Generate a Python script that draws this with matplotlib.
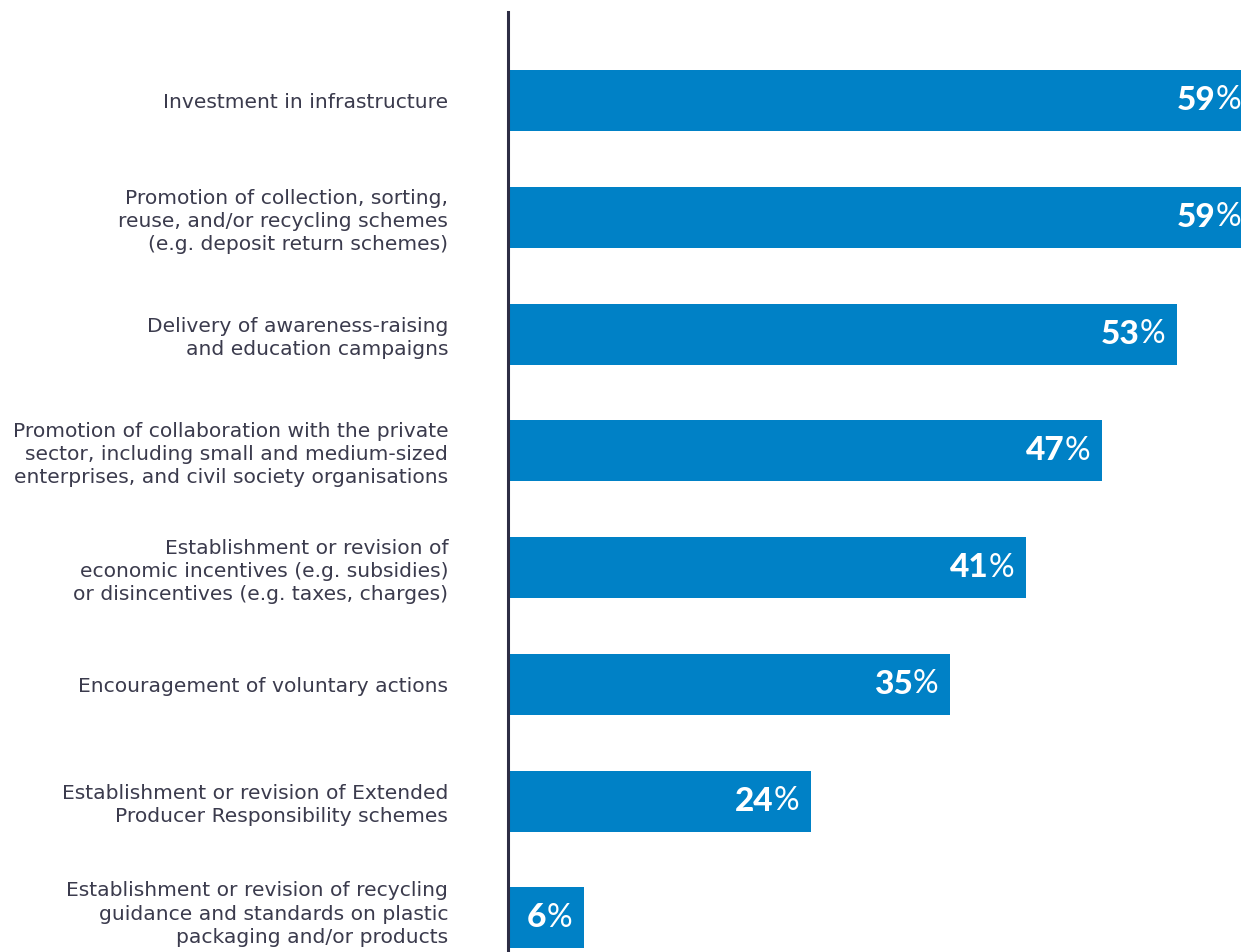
import matplotlib
matplotlib.use("Agg")
import matplotlib.pyplot as plt
from matplotlib.transforms import ScaledTranslation

categories = [
    "Investment in infrastructure",
    "Promotion of collection, sorting,\nreuse, and/or recycling schemes\n(e.g. deposit return schemes)",
    "Delivery of awareness-raising\nand education campaigns",
    "Promotion of collaboration with the private\nsector, including small and medium-sized\nenterprises, and civil society organisations",
    "Establishment or revision of\neconomic incentives (e.g. subsidies)\nor disincentives (e.g. taxes, charges)",
    "Encouragement of voluntary actions",
    "Establishment or revision of Extended\nProducer Responsibility schemes",
    "Establishment or revision of recycling\nguidance and standards on plastic\npackaging and/or products",
]
values = [59, 59, 53, 47, 41, 35, 24, 6]

BAR = "#0081C6"
TXT = "#3b3b4d"
AXC = "#2d2d44"

W, H, DPI = 1241, 952, 100
fig = plt.figure(figsize=(W / DPI, H / DPI), dpi=DPI)
left_px, top_px = 508, 12
ax = fig.add_axes([left_px / W, 0, 1 - left_px / W, (H - top_px) / H])

spacing = 116.8
c0 = 100.4
y_top = -(c0 - top_px) / spacing
y_bot = (H - c0) / spacing
pos = list(range(len(values)))
ax.barh(pos, values, height=61 / spacing, color=BAR, left=0)
ax.set_ylim(y_bot, y_top)
ax.set_xlim(0, (W - left_px) / 12.63)

for s in ["top", "right", "bottom"]:
    ax.spines[s].set_visible(False)
ax.spines["left"].set_color(AXC)
ax.spines["left"].set_linewidth(2.2)
ax.set_xticks([])
ax.set_yticks(pos)
labels = ax.set_yticklabels(categories, fontsize=14.6, color=TXT,
                            family="DejaVu Sans", linespacing=1.27)
ax.tick_params(axis="y", length=0, pad=43)
# the last label sits slightly higher in the reference
labels[-1].set_transform(labels[-1].get_transform()
                         + ScaledTranslation(0, 8 / 100, fig.dpi_scale_trans))

for p, v in zip(pos, values):
    t = ax.annotate("%", xy=(v, p), xytext=(-8.5, 0), textcoords="offset points",
                    ha="right", va="center", color="white", fontsize=23,
                    family="Lato", fontweight="normal", annotation_clip=False)
    ax.annotate(str(v), xy=(0, 0.5), xycoords=t, ha="right", va="center",
                color="white", fontsize=24, family="Lato", fontweight="black",
                annotation_clip=False)

fig.savefig("out.png", dpi=DPI)
